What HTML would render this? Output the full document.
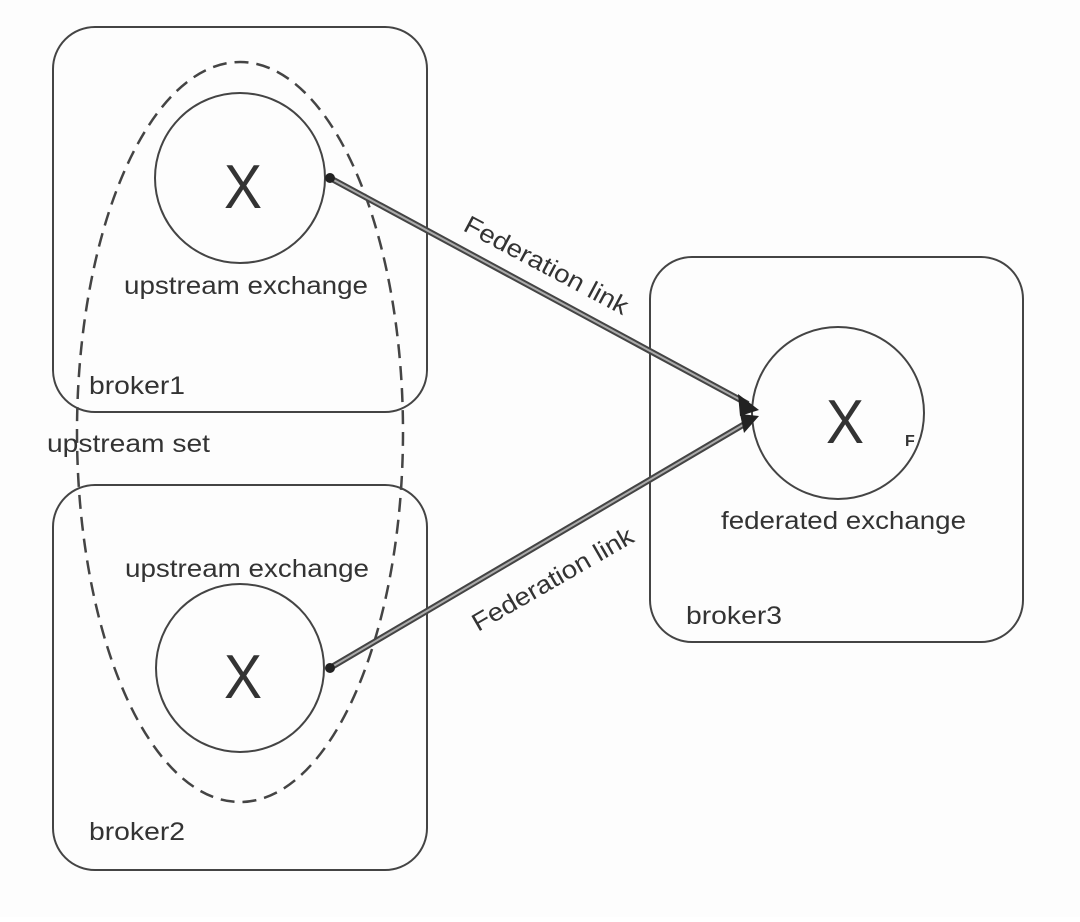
<!DOCTYPE html>
<html><head><meta charset="utf-8"><style>
html,body{margin:0;padding:0;background:#fff;}
svg text{font-family:"Liberation Sans",sans-serif;fill:#333;}
</style></head><body>
<svg width="1080" height="917" viewBox="0 0 1080 917" xmlns="http://www.w3.org/2000/svg">
<rect width="1080" height="917" fill="#fdfdfd"/>
<g fill="none" stroke="#444" stroke-width="2">
<rect x="53" y="27" width="374" height="385" rx="42"/>
<rect x="53" y="485" width="374" height="385" rx="42"/>
<rect x="650" y="257" width="373" height="385" rx="42"/>
<circle cx="240" cy="178" r="85"/>
<circle cx="240" cy="668" r="84"/>
<circle cx="838" cy="413" r="86"/>
<ellipse cx="240" cy="432" rx="163" ry="370" stroke-dasharray="14 8" stroke-width="2.5"/>
</g>
<g stroke-linecap="butt">
<line x1="330" y1="178" x2="748" y2="404" stroke="#444" stroke-width="6"/>
<line x1="330" y1="178" x2="748" y2="404" stroke="#aaa" stroke-width="2"/>
<line x1="330" y1="668" x2="748" y2="422" stroke="#444" stroke-width="6"/>
<line x1="330" y1="668" x2="748" y2="422" stroke="#aaa" stroke-width="2"/>
</g>
<circle cx="330" cy="178" r="5" fill="#222"/>
<circle cx="330" cy="668" r="5" fill="#222"/>
<polygon points="759,410 738,394 740,416" fill="#222"/>
<polygon points="759,416 740,414 744,433" fill="#222"/>
<g font-size="62" text-anchor="middle">
<text x="243" y="208" textLength="38" lengthAdjust="spacingAndGlyphs">X</text>
<text x="243" y="698" textLength="38" lengthAdjust="spacingAndGlyphs">X</text>
<text x="845" y="443" textLength="38" lengthAdjust="spacingAndGlyphs">X</text>
</g>
<text x="905" y="446" font-size="16" font-weight="bold">F</text>
<g font-size="25">
<text x="124" y="294" textLength="244" lengthAdjust="spacingAndGlyphs">upstream exchange</text>
<text x="125" y="577" textLength="244" lengthAdjust="spacingAndGlyphs">upstream exchange</text>
<text x="721" y="529" textLength="245" lengthAdjust="spacingAndGlyphs">federated exchange</text>
<text x="89" y="394" textLength="96" lengthAdjust="spacingAndGlyphs">broker1</text>
<text x="89" y="840" textLength="96" lengthAdjust="spacingAndGlyphs">broker2</text>
<text x="686" y="624" textLength="96" lengthAdjust="spacingAndGlyphs">broker3</text>
<text x="47" y="452" textLength="163" lengthAdjust="spacingAndGlyphs">upstream set</text>
<text transform="translate(462,230) rotate(28)" textLength="182" lengthAdjust="spacingAndGlyphs">Federation link</text>
<text transform="translate(478,632) rotate(-30)" textLength="182" lengthAdjust="spacingAndGlyphs">Federation link</text>
</g>
</svg>
</body></html>
